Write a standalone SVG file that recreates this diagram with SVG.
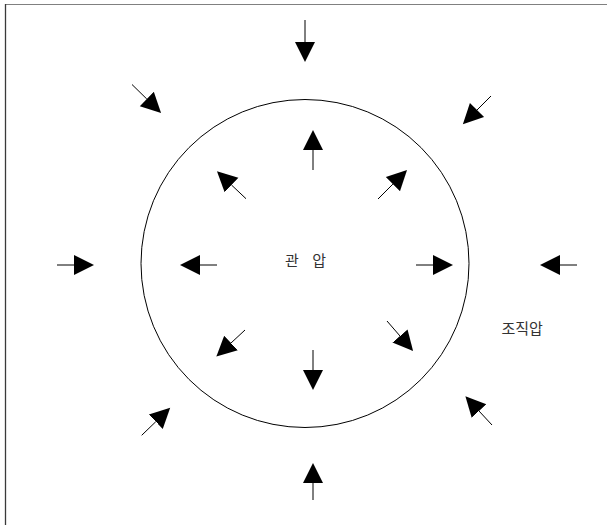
<svg xmlns="http://www.w3.org/2000/svg" width="607" height="525" viewBox="0 0 607 525">
<style>
.frame-top{stroke:#808080;stroke-width:1;fill:none}
.frame-left{stroke:#3a3a3a;stroke-width:1.3;fill:none}
.ring{fill:none;stroke:#000;stroke-width:1}
.arr{stroke:#000;stroke-width:1;fill:none;marker-end:url(#head)}
.lbl{font-family:"Noto Sans CJK KR","Noto Sans",sans-serif;font-size:15px;fill:#333}
</style>
<defs>
<marker id="head" markerUnits="userSpaceOnUse" markerWidth="22" markerHeight="22" viewBox="0 -11 22 22" refX="0" refY="0" orient="auto">
<path d="M0,-10 L20,0 L0,10 Z" fill="#000"/>
</marker>
</defs>
<rect width="607" height="525" fill="#fff"/>
<line class="frame-top" x1="5" y1="4.5" x2="607" y2="4.5"/>
<line class="frame-left" x1="5.5" y1="4" x2="5.5" y2="525"/>
<g id="vessel">
<circle class="ring" cx="305" cy="263.5" r="164"/>
</g>
<g id="connectors">
<line class="arr" x1="305" y1="20" x2="305" y2="42"/>
<line class="arr" x1="132" y1="84.5" x2="146.8" y2="99"/>
<line class="arr" x1="491" y1="96" x2="477" y2="110"/>
<line class="arr" x1="57" y1="265" x2="74" y2="265"/>
<line class="arr" x1="577" y1="265" x2="560" y2="265"/>
<line class="arr" x1="141.7" y1="435.3" x2="155.8" y2="421.7"/>
<line class="arr" x1="492" y1="425" x2="479" y2="411"/>
<line class="arr" x1="313" y1="500" x2="313" y2="483"/>
<line class="arr" x1="313" y1="170" x2="313" y2="150"/>
<line class="arr" x1="246" y1="198.7" x2="231.5" y2="185"/>
<line class="arr" x1="378" y1="199" x2="392.9" y2="184.1"/>
<line class="arr" x1="217" y1="265" x2="200" y2="265"/>
<line class="arr" x1="416" y1="265" x2="433" y2="265"/>
<line class="arr" x1="245" y1="330" x2="231" y2="343"/>
<line class="arr" x1="387" y1="321" x2="400" y2="336"/>
<line class="arr" x1="313" y1="350" x2="313" y2="370"/>
</g>
<g id="label-vascular">
<text class="lbl" x="285" y="266" word-spacing="10">관 압</text>
</g>
<g id="label-tissue">
<text class="lbl" x="501.5" y="334">조직압</text>
</g>
</svg>
